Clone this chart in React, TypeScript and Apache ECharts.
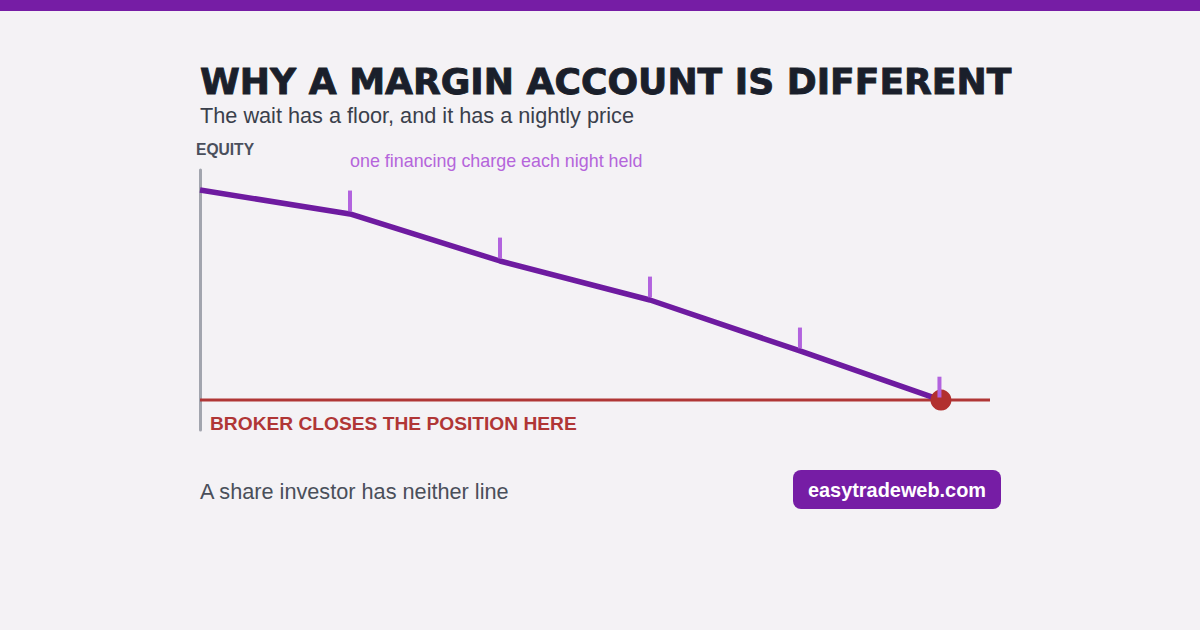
import React, { useEffect, useRef } from "react";
import * as echarts from "echarts";

// ---- data ----
const nights = [0, 1, 2, 3, 4, 4.94];
const equity = [92.3, 83.1, 65.0, 50.0, 30.4, 11.5];
const chargeNights = [1, 2, 3, 4, 4.93];
const chargeSize = [8, 8, 8, 8, 8];
const FLOOR = 11.5;
const AXIS_END = 5.267;

const TITLE = "WHY A MARGIN ACCOUNT IS DIFFERENT";
const SUBTITLE = "The wait has a floor, and it has a nightly price";
const AXIS_LABEL = "EQUITY";
const CHARGE_NOTE = "one financing charge each night held";
const FLOOR_LABEL = "BROKER CLOSES THE POSITION HERE";
const FOOTNOTE = "A share investor has neither line";
const BRAND = "easytradeweb.com";

const PURPLE = "#761DA5";
const LINE_PURPLE = "#6E1BA0";
const TICK_PURPLE = "#B263DE";
const RED = "#B03636";
const BG = "#F4F2F5";

export default function App() {
  const ref = useRef<HTMLDivElement>(null);

  useEffect(() => {
    document.body.style.margin = "0";
    const chart = echarts.init(ref.current!, null, { renderer: "svg" });
    const sans = "'Liberation Sans', Arial, sans-serif";
    const option: any = {
      animation: false,
      backgroundColor: BG,
      grid: { left: 200, top: 170, width: 790, height: 260, containLabel: false },
      xAxis: {
        type: "value",
        min: 0,
        max: AXIS_END,
        show: false,
      },
      yAxis: {
        type: "value",
        min: 0,
        max: 100,
        axisLine: { show: true, lineStyle: { color: "#A2A5AE", width: 3 } },
        axisTick: { show: false },
        axisLabel: { show: false },
        splitLine: { show: false },
      },
      series: [
        {
          name: "floor",
          type: "line",
          data: [
            [0, FLOOR],
            [AXIS_END, FLOOR],
          ],
          symbol: "none",
          lineStyle: { color: RED, width: 3 },
          z: 1,
        },
        {
          name: "equity",
          type: "line",
          data: nights.map((n, i) => [n, equity[i]]),
          symbol: "none",
          lineStyle: { color: LINE_PURPLE, width: 5.5, join: "round" },
          z: 2,
        },
        {
          name: "closed",
          type: "scatter",
          data: [[nights[nights.length - 1], FLOOR]],
          symbol: "circle",
          symbolSize: 21,
          itemStyle: { color: "#B2302F", opacity: 1 },
          z: 3,
        },
        {
          name: "charges",
          type: "custom",
          data: chargeNights.map((n, i) => {
            const idx = nights.findIndex((v) => Math.abs(v - n) < 0.05);
            return [n, equity[idx], chargeSize[i]];
          }),
          renderItem: (params: any, api: any) => {
            const x = api.value(0);
            const y = api.value(1);
            const c = api.value(2);
            const p0 = api.coord([x, y + 1]);
            const p1 = api.coord([x, y + 1 + c]);
            return {
              type: "line",
              shape: { x1: p0[0], y1: p0[1], x2: p1[0], y2: p1[1] },
              style: { stroke: TICK_PURPLE, lineWidth: 4 },
            };
          },
          z: 4,
        },
      ],
      graphic: [
        {
          type: "rect",
          left: 0,
          top: 0,
          shape: { width: 1200, height: 11 },
          style: { fill: PURPLE },
        },
        {
          type: "text",
          x: 200,
          y: 82,
          style: {
            text: TITLE,
            font: "bold 36.1px 'DejaVu Sans', sans-serif",
            fill: "#1A1F2B",
            stroke: "#1A1F2B",
            lineWidth: 0.9,
            verticalAlign: "middle",
          },
        },
        {
          type: "text",
          x: 200,
          y: 115,
          style: {
            text: SUBTITLE,
            font: `21.7px ${sans}`,
            fill: "#3A3F4B",
            verticalAlign: "middle",
          },
        },
        {
          type: "text",
          x: 196,
          y: 149.5,
          style: {
            text: AXIS_LABEL,
            font: `bold 15.6px ${sans}`,
            fill: "#4A4F5C",
            verticalAlign: "middle",
          },
        },
        {
          type: "text",
          x: 350,
          y: 161,
          style: {
            text: CHARGE_NOTE,
            font: `17.9px ${sans}`,
            fill: "#B565DB",
            verticalAlign: "middle",
          },
        },
        {
          type: "text",
          x: 210,
          y: 423.5,
          style: {
            text: FLOOR_LABEL,
            font: `bold 19.2px ${sans}`,
            fill: RED,
            verticalAlign: "middle",
          },
        },
        {
          type: "text",
          x: 200,
          y: 491,
          style: {
            text: FOOTNOTE,
            font: `21.7px ${sans}`,
            fill: "#4A4F5A",
            verticalAlign: "middle",
          },
        },
        {
          type: "rect",
          x: 793,
          y: 470,
          shape: { width: 208, height: 39, r: 8 },
          style: { fill: PURPLE },
        },
        {
          type: "text",
          x: 897,
          y: 490,
          style: {
            text: BRAND,
            font: `bold 19.9px ${sans}`,
            fill: "#FFFFFF",
            align: "center",
            verticalAlign: "middle",
          },
        },
      ],
    };
    chart.setOption(option);
    return () => chart.dispose();
  }, []);

  return (
    <div
      ref={ref}
      style={{ position: "fixed", left: 0, top: 0, width: 1200, height: 630 }}
    />
  );
}
